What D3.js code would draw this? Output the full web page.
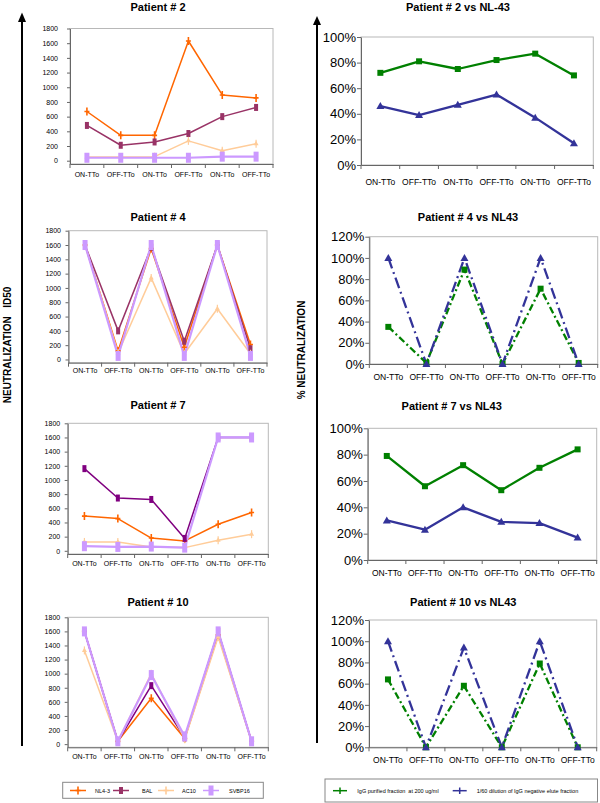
<!DOCTYPE html>
<html><head><meta charset="utf-8">
<script src="https://cdn.jsdelivr.net/npm/d3@7"></script>
<style>
body{margin:0;background:#fff}
svg{display:block;font-family:"Liberation Sans",Arial,sans-serif}
</style>
</head><body>
<svg id="chart" width="600" height="803"></svg>
<script>
// ---------- DATA ----------
const categories = ["ON-TTo","OFF-TTo","ON-TTo","OFF-TTo","ON-TTo","OFF-TTo"];
const id50Ticks = [0,200,400,600,800,1000,1200,1400,1600,1800];
const pctTicks100 = [0,20,40,60,80,100];
const pctTicks120 = [0,20,40,60,80,100,120];

const leftSeriesNames = ["NL4-3","BAL","AC10","SVBP16"];
const rightSeriesNames = ["IgG purified fraction  at 200 ug/ml","1/60 dilution of IgG negative elute fraction"];

// Patient #2 (ID50)
const p2NL43   = [670, 345, 345, 1630, 895, 855];
const p2BAL    = [480, 210, 255, 370, 600, 725];
const p2AC10   = [50, 50, 55, 270, 135, 230];
const p2SVBP16 = [40, 40, 40, 40, 55, 55];
// Patient #4
const p4NL43   = [1600, 120, 1550, 170, 1600, 210];
const p4BAL    = [1600, 400, 1570, 255, 1600, 150];
const p4AC10   = [1600, 90, 1140, 80, 710, 80];
const p4SVBP16 = [1600, 50, 1600, 50, 1600, 50];
// Patient #7
const p7NL43   = [490, 455, 180, 140, 375, 540];
const p7BAL    = [1160, 745, 725, 175, 1600, 1600];
const p7AC10   = [125, 125, 55, 45, 150, 235];
const p7SVBP16 = [65, 55, 60, 45, 1600, 1600];
// Patient #10
const p10NL43   = [1600, 40, 650, 80, 1550, 40];
const p10BAL    = [1600, 40, 830, 90, 1600, 40];
const p10AC10   = [1330, 40, 1000, 70, 1520, 40];
const p10SVBP16 = [1600, 40, 980, 110, 1600, 40];

// % neutralization vs NL43
const p2IgG  = [72, 81, 75, 82, 87, 70];
const p2Neg  = [46, 39, 47, 55, 37, 17];
const p4IgG  = [35, 1, 89, 0, 71, 1];
const p4Neg  = [100, 0, 100, 0, 100, 0];
const p7IgG  = [79, 56, 72, 53, 70, 84];
const p7Neg  = [30, 23, 40, 29, 28, 17];
const p10IgG = [64, 0, 58, 0, 79, 0];
const p10Neg = [100, 0, 94, 0, 100, 0];

// ---------- STYLES ----------
const cNL = "#FF6600", cBALa = "#993366", cBALb = "#800080", cAC = "#FFCC99", cSV = "#CC99FF";
const cGreen = "#008000", cBlue = "#333399";

const svg = d3.select("#chart");

function marker(g, type, color, xx, yy) {
  const m = g.append("g").attr("transform", `translate(${xx},${yy})`);
  if (type === "plus") {
    m.append("path").attr("d","M-2.5,0H2.5M0,-4V4").attr("stroke",color).attr("stroke-width",1.6).attr("fill","none");
  } else if (type === "bar") {
    m.append("rect").attr("x",-2).attr("y",-3.5).attr("width",4).attr("height",7).attr("fill",color);
  } else if (type === "tri") {
    m.append("path").attr("d","M0,-3L2.5,1.5L-2.5,1.5Z").attr("fill",color);
    m.append("path").attr("d","M0,-4V4").attr("stroke",color).attr("stroke-width",1.2);
  } else if (type === "bigbar") {
    m.append("rect").attr("x",-2.5).attr("y",-5).attr("width",5).attr("height",10).attr("fill",color);
  } else if (type === "square") {
    m.append("rect").attr("x",-3).attr("y",-3).attr("width",6).attr("height",6).attr("fill",color);
  } else if (type === "triangle") {
    m.append("path").attr("d","M0,-4L4,3L-4,3Z").attr("fill",color);
  }
}

function drawPanel(cfg, series) {
  const g = svg.append("g");
  const x = d3.scaleBand().domain(d3.range(categories.length)).range([cfg.x0, cfg.x1]);
  const y = d3.scaleLinear().domain(cfg.domain).range([cfg.bottom, cfg.top]);

  // plot area border
  g.append("rect").attr("x",cfg.x0).attr("y",cfg.top)
    .attr("width",cfg.x1-cfg.x0).attr("height",cfg.bottom-cfg.top)
    .attr("fill","none").attr("stroke","#b8b8b8").attr("stroke-width",1);

  // y axis
  const ya = d3.axisLeft(y).tickValues(cfg.ticks).tickSize(cfg.tickLen).tickSizeOuter(0)
    .tickPadding(cfg.pad).tickFormat(cfg.fmt);
  const yg = g.append("g").attr("transform",`translate(${cfg.x0},0)`).call(ya);
  yg.select(".domain").attr("stroke","#666");
  yg.selectAll(".tick line").attr("stroke","#666");
  yg.selectAll("text").attr("font-size",cfg.yFont).attr("fill","#000")
    .attr("font-family","\"Liberation Sans\",Arial,sans-serif");

  // x axis
  const xa = d3.axisBottom(x).tickSize(0).tickSizeOuter(0).tickPadding(cfg.xPad)
    .tickFormat(i => categories[i]);
  const xg = g.append("g").attr("transform",`translate(0,${cfg.bottom})`).call(xa);
  xg.select(".domain").attr("stroke","#666");
  xg.selectAll("text").attr("font-size",cfg.xFont).attr("fill","#000")
    .attr("font-family","\"Liberation Sans\",Arial,sans-serif");
  // boundary tick marks
  const bounds = d3.range(categories.length + 1).map(i => cfg.x0 + i * x.step());
  g.selectAll(null).data(bounds).enter().append("line")
    .attr("x1",d=>d).attr("x2",d=>d).attr("y1",cfg.bottom).attr("y2",cfg.bottom+4)
    .attr("stroke","#666");

  // title
  g.append("text").attr("x",cfg.titleX).attr("y",cfg.titleY).attr("text-anchor","middle")
    .attr("font-size",11).attr("font-weight","bold").text(cfg.title);

  // series
  const line = d3.line().x((d,i)=>x(i)+x.bandwidth()/2).y(d=>y(d));
  series.forEach(s => {
    g.append("path").datum(s.values).attr("d",line).attr("fill","none")
      .attr("stroke",s.color).attr("stroke-width",s.width)
      .attr("stroke-dasharray",s.dash || null).attr("stroke-linejoin","round");
  });
  series.forEach(s => {
    s.values.forEach((v,i) => marker(g, s.marker, s.color, x(i)+x.bandwidth()/2, y(v)));
  });
}

function leftSeries(nl, bal, ac, sv, balColor) {
  return [
    {values:nl, color:cNL, width:1.5, marker:"plus"},
    {values:bal, color:balColor, width:1.5, marker:"bar"},
    {values:ac, color:cAC, width:1.5, marker:"tri"},
    {values:sv, color:cSV, width:2.2, marker:"bigbar"}
  ];
}
function rightSeries(igg, neg, dashed) {
  return [
    {values:igg, color:cGreen, width:2.3, marker:"square", dash: dashed ? "7,3,2,3" : null},
    {values:neg, color:cBlue, width:2.3, marker:"triangle", dash: dashed ? "11,4,2,4" : null}
  ];
}

const leftBase = {domain:[-45,1800], ticks:id50Ticks, tickLen:3, fmt:d=>d, yFont:7, xFont:7, xPad:8};
const fmtPct = d => d + "%";
const rightBase = {tickLen:4, pad:1, fmt:fmtPct, yFont:13, xFont:8.5};

drawPanel({...leftBase, title:"Patient # 2", x0:70, x1:273, top:28.5, bottom:164, titleX:158, titleY:11, pad:9},
  leftSeries(p2NL43, p2BAL, p2AC10, p2SVBP16, cBALa));
drawPanel({...leftBase, title:"Patient # 4", x0:68.5, x1:267, top:230.7, bottom:362.7, titleX:158, titleY:220.7, pad:4.5, xPad:5},
  leftSeries(p4NL43, p4BAL, p4AC10, p4SVBP16, cBALa));
drawPanel({...leftBase, title:"Patient # 7", x0:67.7, x1:268.3, top:423.3, bottom:554, titleX:158, titleY:409, pad:4.5, xPad:7},
  leftSeries(p7NL43, p7BAL, p7AC10, p7SVBP16, cBALb));
drawPanel({...leftBase, title:"Patient # 10", x0:67.7, x1:268.3, top:617.3, bottom:747.3, titleX:158, titleY:605.7, pad:4.5, xPad:7},
  leftSeries(p10NL43, p10BAL, p10AC10, p10SVBP16, cBALb));

drawPanel({...rightBase, title:"Patient # 2 vs NL-43", domain:[0,100], ticks:pctTicks100, x0:361, x1:593.3, top:37, bottom:165, titleX:458, titleY:10.7, xPad:14},
  rightSeries(p2IgG, p2Neg, false));
drawPanel({...rightBase, title:"Patient # 4 vs NL43", domain:[0,120], ticks:pctTicks120, x0:369.3, x1:597.7, top:236.7, bottom:364, titleX:468, titleY:220.7, xPad:10},
  rightSeries(p4IgG, p4Neg, true));
drawPanel({...rightBase, title:"Patient # 7 vs NL43", domain:[0,100], ticks:pctTicks100, x0:367.7, x1:596.7, top:428.3, bottom:560, titleX:451.7, titleY:409.7, xPad:10},
  rightSeries(p7IgG, p7Neg, false));
drawPanel({...rightBase, title:"Patient # 10 vs NL43", domain:[0,120], ticks:pctTicks120, x0:369, x1:596.7, top:620, bottom:747.3, titleX:463.3, titleY:606.3, xPad:10},
  rightSeries(p10IgG, p10Neg, true));

// ---------- big arrows & axis labels ----------
function arrow(xx, tip, base, end) {
  svg.append("line").attr("x1",xx).attr("x2",xx).attr("y1",base-1).attr("y2",end)
    .attr("stroke","#000").attr("stroke-width",2);
  svg.append("path").attr("d",`M${xx},${tip}L${xx-4},${base}L${xx+4},${base}Z`).attr("fill","#000");
}
arrow(22, 12.5, 22, 746);
arrow(317, 16, 25, 743);

svg.append("text").attr("transform","translate(10.5,345) rotate(-90)").attr("text-anchor","middle")
  .attr("font-size",10).attr("font-weight","bold").style("white-space","pre")
  .text("NEUTRALIZATION   ID50");
svg.append("text").attr("transform","translate(305,350) rotate(-90)").attr("text-anchor","middle")
  .attr("font-size",10).attr("font-weight","bold").style("white-space","pre")
  .text("% NEUTRALIZATION");

// ---------- legends ----------
const legL = svg.append("g");
legL.append("rect").attr("x",62.7).attr("y",782.3).attr("width",200.6).attr("height",16)
  .attr("fill","#fff").attr("stroke","#888");
const legLItems = [
  {name:leftSeriesNames[0], color:cNL, marker:"plus", lx:70, tx:95},
  {name:leftSeriesNames[1], color:cBALa, marker:"bar", lx:113, tx:142},
  {name:leftSeriesNames[2], color:cAC, marker:"plus", lx:158, tx:182},
  {name:leftSeriesNames[3], color:cSV, marker:"bigbar", lx:203, tx:229}
];
legLItems.forEach(it => {
  legL.append("line").attr("x1",it.lx).attr("x2",it.lx+16).attr("y1",790.5).attr("y2",790.5)
    .attr("stroke",it.color).attr("stroke-width",1.5);
  marker(legL, it.marker, it.color, it.lx+8, 790.5);
  legL.append("text").attr("x",it.tx).attr("y",792.5).attr("font-size",5.5).text(it.name);
});

const legR = svg.append("g");
legR.append("rect").attr("x",325).attr("y",779).attr("width",272.5).attr("height",23)
  .attr("fill","#fff").attr("stroke","#888");
const legRItems = [
  {name:rightSeriesNames[0], color:cGreen, lx:333, tx:357.3},
  {name:rightSeriesNames[1], color:cBlue, lx:452.7, tx:476.7}
];
legRItems.forEach(it => {
  legR.append("line").attr("x1",it.lx).attr("x2",it.lx+14).attr("y1",790.7).attr("y2",790.7)
    .attr("stroke",it.color).attr("stroke-width",1.5);
  legR.append("line").attr("x1",it.lx+7).attr("x2",it.lx+7).attr("y1",787.5).attr("y2",794)
    .attr("stroke",it.color).attr("stroke-width",1.5);
  legR.append("text").attr("x",it.tx).attr("y",792.5).attr("font-size",5.5).style("white-space","pre").text(it.name);
});
</script>
</body></html>
